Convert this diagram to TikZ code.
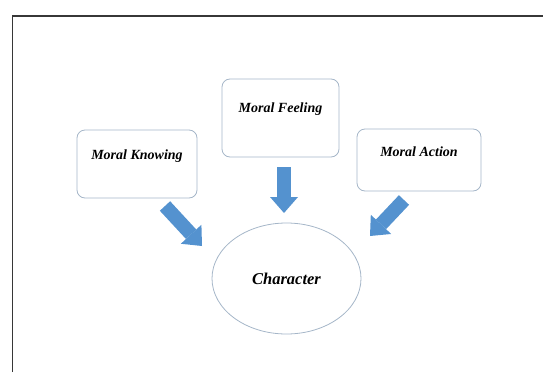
\documentclass[tikz,border=0pt]{standalone}
\usepackage{fontspec}
\setmainfont{Liberation Serif}
\usetikzlibrary{arrows.meta,shapes.geometric,positioning}
\definecolor{arrowblue}{RGB}{84,146,207}
\definecolor{boxgray}{RGB}{165,182,200}
\definecolor{framegray}{RGB}{55,55,55}
\begin{document}
\begin{tikzpicture}[x=1pt,y=-1pt]
			\newcommand{\myfontbox}[1]{
				\fontsize{14}{16}\selectfont\bfseries\itshape{#1}
			}\newcommand{\myfontcenter}[1]{
				\fontsize{16.5}{18}\selectfont\bfseries\itshape{#1}
			}%Page size
			\useasboundingbox (0,0) rectangle (543,372);
			%Outer frame, only top and left edge are visible
			\coordinate (frameBottom) at (12.5,372);
			\coordinate (frameCorner) at (12.5,16);
			\coordinate (frameRight) at (543,16);
			\draw [framegray, line width=1.4pt] (frameBottom) -- (frameCorner) -- (frameRight);
			%Boxes
			\coordinate (centerKnowing) at (137,164);
			\coordinate (centerFeeling) at (280.5,118);
			\coordinate (centerAction) at (419,160);
			\node [draw=boxgray, line width=0.8pt, rounded corners=8pt, minimum width=120pt, minimum height=68pt] (knowing) at (centerKnowing) {};
			\node [draw=boxgray, line width=0.8pt, rounded corners=8pt, minimum width=117pt, minimum height=78pt] (feeling) at (centerFeeling) {};
			\node [draw=boxgray, line width=0.8pt, rounded corners=8pt, minimum width=124pt, minimum height=62pt] (action) at (centerAction) {};
			%Texts in the boxes
			\node [] (knowingText) at (137,156) {\myfontbox{Moral Knowing}};
			\node [] (feelingText) at (280.5,109) {\myfontbox{Moral Feeling}};
			\node [] (actionText) at (419,152) {\myfontbox{Moral Action}};
			%The ellipse in the middle
			\coordinate (centerCharacter) at (286.5,278.5);
			\node [ellipse, draw=boxgray, line width=0.8pt, minimum width=149pt, minimum height=111pt] (character) at (centerCharacter) {};
			\node [] (characterText) at (centerCharacter) {\myfontcenter{Character}};
			%Block arrows
			\coordinate (tailKnowing) at (165,206);
			\coordinate (tipKnowing) at (202,246);
			\coordinate (tailFeeling) at (284,167);
			\coordinate (tipFeeling) at (284,213);
			\coordinate (tailAction) at (404,200);
			\coordinate (tipAction) at (370,236);
			\draw [arrowblue, line width=14pt, -{Triangle[width=28pt,length=16pt,line width=0pt]}] (tailKnowing) -- (tipKnowing);
			\draw [arrowblue, line width=14pt, -{Triangle[width=28pt,length=16pt,line width=0pt]}] (tailFeeling) -- (tipFeeling);
			\draw [arrowblue, line width=14pt, -{Triangle[width=28pt,length=16pt,line width=0pt]}] (tailAction) -- (tipAction);
\end{tikzpicture}
\end{document}
